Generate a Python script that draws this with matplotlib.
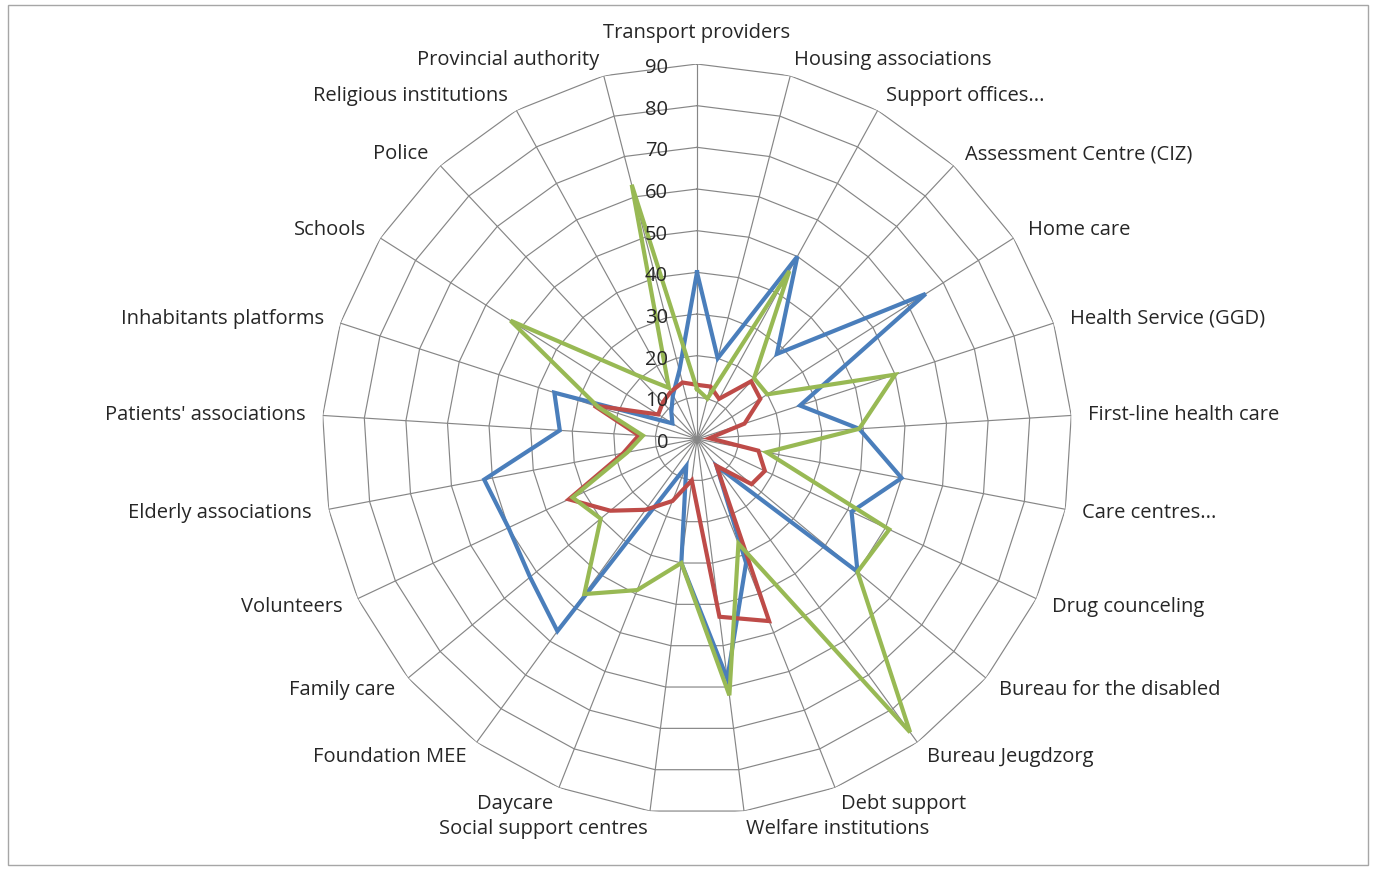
import numpy as np
import matplotlib
matplotlib.use("Agg")
import matplotlib.pyplot as plt
from matplotlib.patches import Rectangle
from matplotlib.transforms import offset_copy

# Organisations, clockwise from the top
categories = [
    "Transport providers", "Housing associations", "Support offices...",
    "Assessment Centre (CIZ)", "Home care", "Health Service (GGD)",
    "First-line health care", "Care centres...", "Drug counceling",
    "Bureau for the disabled", "Bureau Jeugdzorg", "Debt support",
    "Welfare institutions", "Social support centres", "Daycare",
    "Foundation MEE", "Family care", "Volunteers", "Elderly associations",
    "Patients' associations", "Inhabitants platforms", "Schools", "Police",
    "Religious institutions", "Provincial authority",
]

blue_values = [40, 20, 50, 28, 65, 26, 39, 50, 41, 50, 8, 32, 58,
               30, 7, 57, 52, 50, 52, 33, 36, 7, 9, 12, 17]
red_values = [13, 13, 11, 19, 18, 12, 3, 15, 18, 17, 8, 47, 43,
              10, 16, 21, 27, 34, 18, 14, 26, 11, 12, 13, 14]
green_values = [12, 10, 46, 20, 20, 50, 39, 17, 51, 50, 87, 27, 62,
                30, 39, 46, 30, 33, 17, 13, 25, 53, 21, 14, 63]

r_ticks = [0, 10, 20, 30, 40, 50, 60, 70, 80, 90]
r_max = 90

series = [
    (blue_values, "#4a7ebb"),
    (red_values, "#be4b48"),
    (green_values, "#98b954"),
]

W, H = 1376, 870
cx, cy, R = 697, 440, 375
grid_color = "#868686"
text_color = "#262626"
font = "Open Sans"
fsize = 14.5

fig = plt.figure(figsize=(W / 100, H / 100), dpi=100)
fig.patch.set_facecolor("white")
fig.patches.append(Rectangle((8 / W, 4 / H), (W - 16) / W, (H - 10) / H,
                             transform=fig.transFigure, fill=False,
                             edgecolor="#a6a6a6", linewidth=1.0))

ax = fig.add_axes([(cx - R) / W, (H - cy - R) / H, 2 * R / W, 2 * R / H],
                  projection="polar")
ax.set_theta_zero_location("N")
ax.set_theta_direction(-1)
ax.set_ylim(0, r_max)
ax.axis("off")

n = len(categories)
theta = np.arange(n) * 2 * np.pi / n
closed = np.append(theta, theta[0])

# polygonal web: rings and spokes
for t in r_ticks[1:]:
    ax.plot(closed, [t] * (n + 1), color=grid_color, lw=0.85, zorder=1)
for th in theta:
    ax.plot([th, th], [0, r_max], color=grid_color, lw=0.85, zorder=1)

# data series
for vals, col in series:
    v = np.append(vals, vals[0])
    ax.plot(closed, v, color=col, lw=3.0, zorder=3, solid_joinstyle="miter")

# value axis labels along the top spoke
for t in r_ticks:
    tr = offset_copy(ax.transData, fig=fig, x=-29, y=-3, units="dots")
    ax.text(0, t, str(t), transform=tr, ha="right", va="center",
            fontsize=fsize, family=font, color=text_color, zorder=4)

# category labels just outside the outer ring
pad = 17
for th, lab in zip(theta, categories):
    s, c = np.sin(th), np.cos(th)
    if abs(s) < 1e-6:
        tr = offset_copy(ax.transData, fig=fig, x=0, y=22, units="dots")
        ha, va = "center", "bottom"
    else:
        tr = offset_copy(ax.transData, fig=fig, x=pad * s, y=pad * c, units="dots")
        ha = "left" if s > 0 else "right"
        va = "center"
    ax.text(th, r_max, lab, transform=tr, ha=ha, va=va, fontsize=fsize,
            family=font, color=text_color)

fig.savefig("out.png", dpi=100, facecolor="white")
